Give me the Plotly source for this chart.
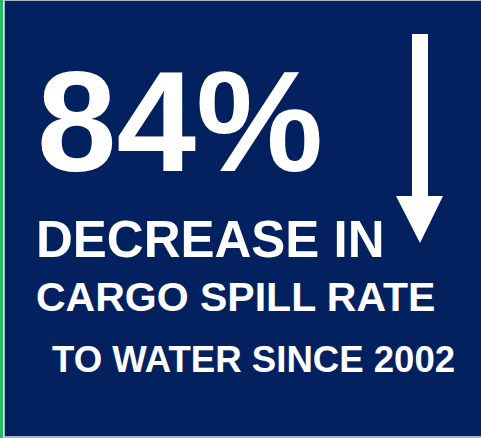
import plotly.graph_objects as go

# Text content of the infographic
headline = "84%"
lines = ["DECREASE IN", "CARGO SPILL RATE", "TO WATER SINCE 2002"]
line_sizes = [51, 41, 36.6]
line_x = [34, 34, 50]
line_y = [239, 297, 359]

W, H = 481, 438
NAVY = "#02215e"
GREEN = "#1fbf62"
WHITE = "#ffffff"

fig = go.Figure()

shapes = [
    dict(type="rect", x0=4, x1=W, y0=0, y1=H, fillcolor="#a9b3c8", line_width=0, layer="below"),
    dict(type="rect", x0=5, x1=W, y0=1, y1=436, fillcolor=NAVY, line_width=0, layer="below"),
    dict(type="rect", x0=0, x1=3, y0=0, y1=H, fillcolor=GREEN, line_width=0, layer="below"),
    # down arrow
    dict(type="path",
         path="M 412 34 L 428 34 L 428 196 L 443 196 L 420 243 L 396 196 L 412 196 Z",
         fillcolor=WHITE, line_width=0),
]

annotations = [
    dict(x=35, y=121, xref="x", yref="y", text=f"<b>{headline}</b>", showarrow=False,
         xanchor="left", yanchor="middle",
         font=dict(family="Liberation Sans, Arial, sans-serif", size=143, color=WHITE)),
]
for t, s, x, y in zip(lines, line_sizes, line_x, line_y):
    annotations.append(dict(x=x, y=y, xref="x", yref="y", text=f"<b>{t}</b>", showarrow=False,
                            xanchor="left", yanchor="middle",
                            font=dict(family="Liberation Sans, Arial, sans-serif", size=s, color=WHITE)))

fig.update_layout(
    width=W, height=H,
    margin=dict(l=0, r=0, t=0, b=0),
    paper_bgcolor=WHITE, plot_bgcolor=WHITE,
    xaxis=dict(range=[0, W], visible=False, fixedrange=True),
    yaxis=dict(range=[H, 0], visible=False, fixedrange=True),
    shapes=shapes, annotations=annotations, showlegend=False,
)

fig.write_html("out.html", config={"displayModeBar": False},
               post_script="document.body.style.margin='0';document.body.style.overflow='hidden';")
